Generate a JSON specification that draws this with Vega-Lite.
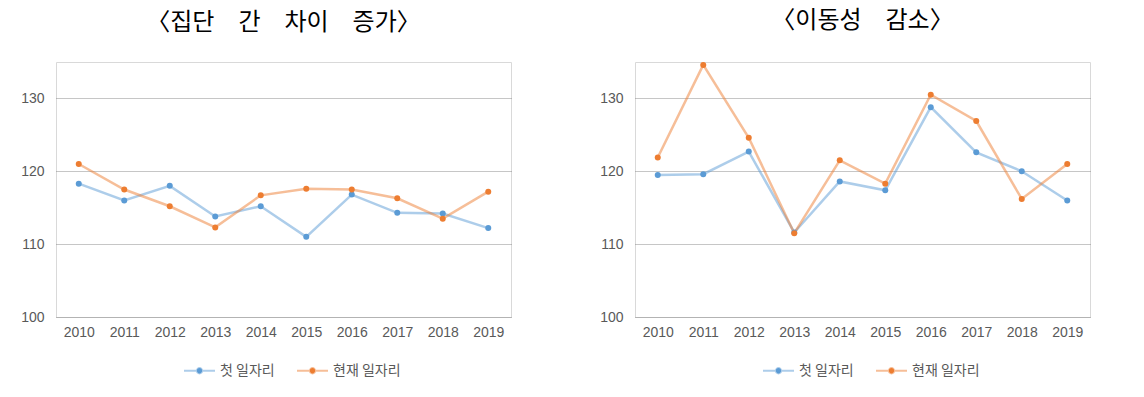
{
  "$schema": "https://vega.github.io/schema/vega-lite/v6.json",
  "padding": {"left": 20, "top": 8, "right": 10, "bottom": 5},
  "background": "white",
  "datasets": {
    "left": [
      {"year": "2010", "series": "첫 일자리", "value": 118.3},
      {"year": "2011", "series": "첫 일자리", "value": 116.0},
      {"year": "2012", "series": "첫 일자리", "value": 118.0},
      {"year": "2013", "series": "첫 일자리", "value": 113.8},
      {"year": "2014", "series": "첫 일자리", "value": 115.2},
      {"year": "2015", "series": "첫 일자리", "value": 111.0},
      {"year": "2016", "series": "첫 일자리", "value": 116.8},
      {"year": "2017", "series": "첫 일자리", "value": 114.3},
      {"year": "2018", "series": "첫 일자리", "value": 114.2},
      {"year": "2019", "series": "첫 일자리", "value": 112.2},
      {"year": "2010", "series": "현재 일자리", "value": 121.0},
      {"year": "2011", "series": "현재 일자리", "value": 117.5},
      {"year": "2012", "series": "현재 일자리", "value": 115.2},
      {"year": "2013", "series": "현재 일자리", "value": 112.3},
      {"year": "2014", "series": "현재 일자리", "value": 116.7},
      {"year": "2015", "series": "현재 일자리", "value": 117.6},
      {"year": "2016", "series": "현재 일자리", "value": 117.5},
      {"year": "2017", "series": "현재 일자리", "value": 116.3},
      {"year": "2018", "series": "현재 일자리", "value": 113.5},
      {"year": "2019", "series": "현재 일자리", "value": 117.2}
    ],
    "right": [
      {"year": "2010", "series": "첫 일자리", "value": 119.5},
      {"year": "2011", "series": "첫 일자리", "value": 119.6},
      {"year": "2012", "series": "첫 일자리", "value": 122.7},
      {"year": "2013", "series": "첫 일자리", "value": 111.6},
      {"year": "2014", "series": "첫 일자리", "value": 118.6},
      {"year": "2015", "series": "첫 일자리", "value": 117.4},
      {"year": "2016", "series": "첫 일자리", "value": 128.8},
      {"year": "2017", "series": "첫 일자리", "value": 122.6},
      {"year": "2018", "series": "첫 일자리", "value": 120.0},
      {"year": "2019", "series": "첫 일자리", "value": 116.0},
      {"year": "2010", "series": "현재 일자리", "value": 121.9},
      {"year": "2011", "series": "현재 일자리", "value": 134.6},
      {"year": "2012", "series": "현재 일자리", "value": 124.6},
      {"year": "2013", "series": "현재 일자리", "value": 111.5},
      {"year": "2014", "series": "현재 일자리", "value": 121.5},
      {"year": "2015", "series": "현재 일자리", "value": 118.3},
      {"year": "2016", "series": "현재 일자리", "value": 130.5},
      {"year": "2017", "series": "현재 일자리", "value": 126.9},
      {"year": "2018", "series": "현재 일자리", "value": 116.2},
      {"year": "2019", "series": "현재 일자리", "value": 121.0}
    ]
  },
  "config": {
    "font": "Liberation Sans",
    "view": {"stroke": "#d9d9d9", "strokeWidth": 1},
    "axis": {
      "labelFont": "Liberation Sans",
      "labelFontSize": 14,
      "labelColor": "#595959",
      "ticks": false,
      "domain": false,
      "title": null
    },
    "title": {
      "font": "Noto Sans CJK KR",
      "fontSize": 24,
      "fontWeight": "normal",
      "color": "#000000",
      "anchor": "middle",
      "frame": "group",
      "offset": 27
    },
    "legend": {
      "direction": "horizontal",
      "title": null,
      "labelFont": "Noto Sans CJK KR",
      "labelFontSize": 14,
      "labelColor": "#595959",
      "symbolType": "M-1,0H1M-0.17,0A0.17,0.17,0,1,0,0.17,0A0.17,0.17,0,1,0,-0.17,0Z",
      "symbolSize": 961,
      "symbolStrokeWidth": 2,
      "columnPadding": 18,
      "labelOffset": 4
    }
  },
  "hconcat": [
    {
      "title": "〈집단　간　차이　증가〉",
      "data": {"name": "left"},
      "width": 455,
      "height": 255,
      "encoding": {
        "x": {"field": "year", "type": "ordinal", "scale": {"type": "point", "padding": 0.5}, "axis": {"labelAngle": 0, "labelPadding": 8, "grid": false}},
        "y": {"field": "value", "type": "quantitative", "scale": {"domain": [100, 135], "nice": false}, "axis": {"values": [100, 110, 120, 130], "labelPadding": 12, "grid": true, "gridColor": "#8c8c8c", "gridDash": [1, 1], "gridWidth": 1}},
        "color": {"field": "series", "type": "nominal", "scale": {"domain": ["첫 일자리", "현재 일자리"], "range": ["#5b9bd5", "#ed7d31"]},
          "legend": {"orient": "none", "legendX": 127, "legendY": 292,
            "encode": {"symbols": {"update": {"strokeOpacity": {"value": 0.5}}}}}}
      },
      "layer": [
        {"mark": {"type": "line", "strokeWidth": 2.5, "strokeOpacity": 0.5}},
        {"mark": {"type": "point", "filled": true, "size": 36, "opacity": 1}}
      ]
    },
    {
      "title": "〈이동성　감소〉",
      "data": {"name": "right"},
      "width": 455,
      "height": 255,
      "encoding": {
        "x": {"field": "year", "type": "ordinal", "scale": {"type": "point", "padding": 0.5}, "axis": {"labelAngle": 0, "labelPadding": 8, "grid": false}},
        "y": {"field": "value", "type": "quantitative", "scale": {"domain": [100, 135], "nice": false}, "axis": {"values": [100, 110, 120, 130], "labelPadding": 12, "grid": true, "gridColor": "#8c8c8c", "gridDash": [1, 1], "gridWidth": 1}},
        "color": {"field": "series", "type": "nominal", "scale": {"domain": ["첫 일자리", "현재 일자리"], "range": ["#5b9bd5", "#ed7d31"]},
          "legend": {"orient": "none", "legendX": 127, "legendY": 292,
            "encode": {"symbols": {"update": {"strokeOpacity": {"value": 0.5}}}}}}
      },
      "layer": [
        {"mark": {"type": "line", "strokeWidth": 2.5, "strokeOpacity": 0.5}},
        {"mark": {"type": "point", "filled": true, "size": 36, "opacity": 1}}
      ]
    }
  ],
  "spacing": 87,
  "resolve": {"scale": {"color": "independent"}, "legend": {"color": "independent"}}
}
